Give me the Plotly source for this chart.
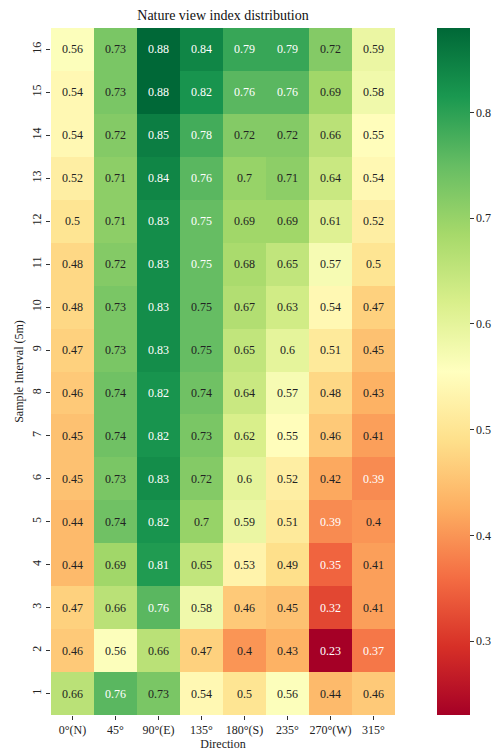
import plotly.graph_objects as go

directions = ["0°(N)", "45°", "90°(E)", "135°", "180°(S)", "235°", "270°(W)", "315°"]
intervals = [str(i) for i in range(1, 17)]

# values per direction, sample interval 1 (bottom) .. 16 (top)
dir_0 = [0.66, 0.46, 0.47, 0.44, 0.44, 0.45, 0.45, 0.46, 0.47, 0.48, 0.48, 0.5, 0.52, 0.54, 0.54, 0.56]
dir_45 = [0.76, 0.56, 0.66, 0.69, 0.74, 0.73, 0.74, 0.74, 0.73, 0.73, 0.72, 0.71, 0.71, 0.72, 0.73, 0.73]
dir_90 = [0.73, 0.66, 0.76, 0.81, 0.82, 0.83, 0.82, 0.82, 0.83, 0.83, 0.83, 0.83, 0.84, 0.85, 0.88, 0.88]
dir_135 = [0.54, 0.47, 0.58, 0.65, 0.7, 0.72, 0.73, 0.74, 0.75, 0.75, 0.75, 0.75, 0.76, 0.78, 0.82, 0.84]
dir_180 = [0.5, 0.4, 0.46, 0.53, 0.59, 0.6, 0.62, 0.64, 0.65, 0.67, 0.68, 0.69, 0.7, 0.72, 0.76, 0.79]
dir_235 = [0.56, 0.43, 0.45, 0.49, 0.51, 0.52, 0.55, 0.57, 0.6, 0.63, 0.65, 0.69, 0.71, 0.72, 0.76, 0.79]
dir_270 = [0.44, 0.23, 0.32, 0.35, 0.39, 0.42, 0.46, 0.48, 0.51, 0.54, 0.57, 0.61, 0.64, 0.66, 0.69, 0.72]
dir_315 = [0.46, 0.37, 0.41, 0.41, 0.4, 0.39, 0.41, 0.43, 0.45, 0.47, 0.5, 0.52, 0.54, 0.55, 0.58, 0.59]

columns = [dir_0, dir_45, dir_90, dir_135, dir_180, dir_235, dir_270, dir_315]
z = [[col[r] for col in columns] for r in range(16)]

# cells (direction index, interval index) with white annotation text
white_cells = {
    (2, 15), (3, 15), (4, 15), (5, 15),
    (2, 14), (3, 14), (4, 14), (5, 14),
    (2, 13), (3, 13),
    (2, 12), (3, 12),
    (2, 11), (3, 11),
    (2, 10), (3, 10),
    (2, 9), (2, 8), (2, 7), (2, 6),
    (2, 5), (7, 5),
    (2, 4), (6, 4),
    (2, 3), (6, 3),
    (2, 2), (6, 2),
    (6, 1), (7, 1),
    (1, 0),
}

FONT = "Liberation Serif"
W, H = 494, 753
L, R, T, B = 51, 99, 28, 38
pw = W - L - R

fig = go.Figure()
fig.add_trace(go.Heatmap(
    z=z, x=directions, y=intervals,
    colorscale="RdYlGn", zmin=min(min(c) for c in columns), zmax=max(max(c) for c in columns),
    xgap=0, ygap=0,
    colorbar=dict(
        thickness=33, lenmode="pixels", len=H - T - B, y=0.5, yanchor="middle",
        x=(437 - L) / pw, xanchor="left", xpad=0, ypad=0,
        outlinewidth=0, ticks="outside", ticklen=4, tickwidth=1, tickcolor="#333",
        tickvals=[0.3, 0.4, 0.5, 0.6, 0.7, 0.8],
        tickfont=dict(family=FONT, size=12, color="#222"),
    ),
    hoverinfo="skip",
))

annotations = []
for ci, col in enumerate(columns):
    for ri, v in enumerate(col):
        annotations.append(dict(
            x=ci, y=ri, xref="x", yref="y",
            text=str(v), showarrow=False,
            font=dict(family=FONT, size=12,
                      color="white" if (ci, ri) in white_cells else "#222"),
        ))

fig.update_layout(
    width=W, height=H,
    margin=dict(l=L, r=R, t=T, b=B, pad=0, autoexpand=False),
    paper_bgcolor="white", plot_bgcolor="white",
    title=dict(text="Nature view index distribution", x=(L + pw / 2) / W, xanchor="center",
               y=1 - 15 / H, yanchor="middle",
               font=dict(family=FONT, size=14, color="#111")),
    annotations=annotations,
    font=dict(family=FONT, size=12, color="#222"),
)
fig.update_xaxes(
    type="category", automargin=False,
    title=dict(text="Direction", font=dict(family=FONT, size=12, color="#222"), standoff=2),
    ticks="outside", ticklen=4, tickcolor="#333", showgrid=False, zeroline=False,
    tickfont=dict(family=FONT, size=12, color="#222"), showline=False,
)
fig.update_yaxes(
    type="category", automargin=False,
    title=dict(text="Sample Interval (5m)", font=dict(family=FONT, size=12, color="#222"), standoff=4),
    ticks="outside", ticklen=4, tickcolor="#333", showgrid=False, zeroline=False,
    tickangle=-90, tickfont=dict(family=FONT, size=12, color="#222"), showline=False,
)

fig.write_html(
    "out.html",
    config={"displayModeBar": False},
    post_script="document.body.style.margin='0';document.body.style.overflow='hidden';",
)
